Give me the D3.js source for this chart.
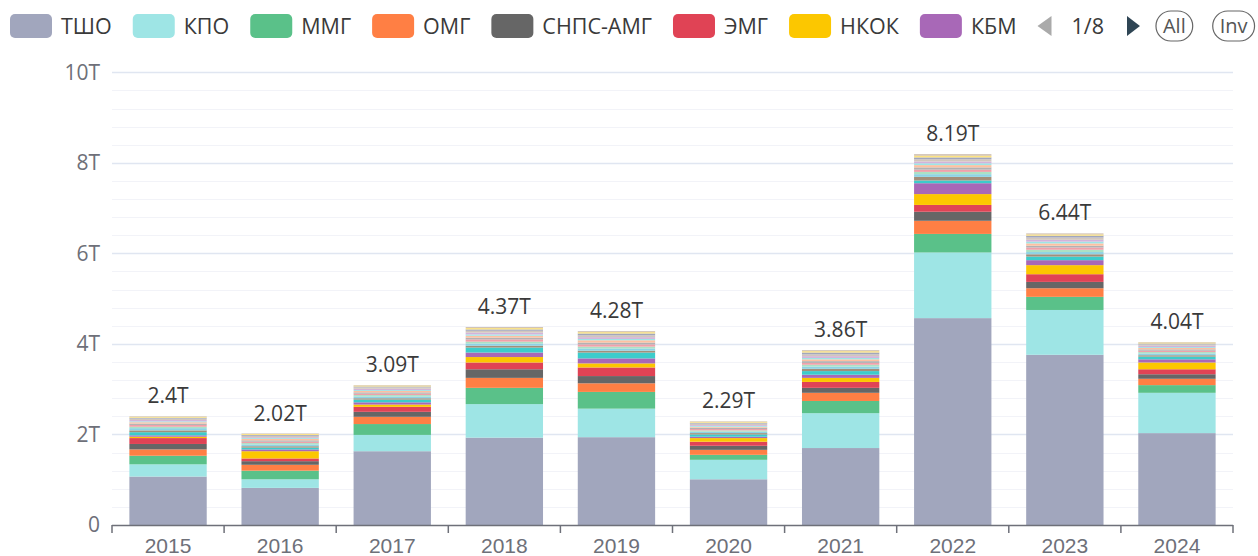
<!DOCTYPE html>
<html><head><meta charset="utf-8">
<script src="https://cdn.jsdelivr.net/npm/d3@7"></script>
<style>
body{margin:0;background:#fff;}
svg{display:block;font-family:"Open Sans","Noto Sans",sans-serif;}
</style>
</head><body>
<svg id="chart" width="1258" height="556"></svg>
<script>
// ---- data (values in trillions) ----
const years = ["2015","2016","2017","2018","2019","2020","2021","2022","2023","2024"];
const legendNames = ["ТШО","КПО","ММГ","ОМГ","СНПС-АМГ","ЭМГ","НКОК","КБМ"];
const legendPage = "1/8";
const yTickValues = [0,2,4,6,8,10];

const tsho    = [1.07,0.82,1.63,1.93,1.94,1.01,1.70,4.57,3.76,2.03];
const kpo     = [0.27,0.19,0.36,0.74,0.63,0.43,0.77,1.45,0.99,0.89];
const mmg     = [0.19,0.19,0.24,0.36,0.37,0.11,0.27,0.41,0.29,0.17];
const omg     = [0.14,0.13,0.16,0.22,0.19,0.11,0.18,0.29,0.19,0.14];
const snps    = [0.12,0.08,0.11,0.19,0.16,0.09,0.11,0.20,0.14,0.10];
const emg     = [0.13,0.06,0.11,0.15,0.19,0.09,0.13,0.15,0.17,0.11];
const nkok    = [0.03,0.16,0.05,0.12,0.09,0.08,0.09,0.24,0.20,0.15];
const kbm     = [0.03,0.04,0.05,0.10,0.11,0.03,0.07,0.24,0.11,0.07];
const other01 = [0.07,0.04,0.06,0.11,0.13,0.05,0.08,0.06,0.08,0.06];
const other02 = [0.04,0.03,0.03,0.04,0.04,0.03,0.05,0.08,0.05,0.03];
const other03 = [0.05,0.04,0.04,0.05,0.05,0.03,0.05,0.06,0.05,0.04];
const other04 = [0.03,0.03,0.03,0.04,0.04,0.03,0.04,0.05,0.05,0.03];
const other05 = [0.04,0.03,0.03,0.05,0.05,0.03,0.04,0.05,0.05,0.03];
const other06 = [0.03,0.03,0.03,0.04,0.04,0.03,0.04,0.05,0.04,0.03];
const other07 = [0.03,0.03,0.03,0.04,0.05,0.02,0.04,0.05,0.05,0.03];
const other08 = [0.02,0.02,0.02,0.03,0.03,0.02,0.03,0.04,0.04,0.02];
const other09 = [0.03,0.02,0.03,0.04,0.04,0.02,0.04,0.04,0.04,0.03];
const other10 = [0.03,0.03,0.03,0.04,0.04,0.03,0.04,0.05,0.05,0.03];
const other11 = [0.02,0.02,0.02,0.03,0.04,0.02,0.04,0.04,0.04,0.02];
const other12 = [0.02,0.02,0.02,0.03,0.03,0.02,0.03,0.04,0.03,0.02];
const other13 = [0.01,0.01,0.01,0.02,0.02,0.01,0.02,0.03,0.02,0.01];

const seriesValues = [tsho,kpo,mmg,omg,snps,emg,nkok,kbm,
  other01,other02,other03,other04,other05,other06,other07,other08,other09,other10,other11,other12,other13];
const seriesColors = ["#A1A6BD","#9EE5E5","#5AC189","#FF7F44","#666666","#E04355","#FCC700","#A868B7",
  "#3CCCCB","#A38F79","#8FD3E4","#ACE1C4","#EFA1AA","#B2B2B2","#FEC0A1","#9EE5E5","#D3B3DA","#D1C6BC","#A1A6BD","#FDE380","#C9B8A8"];

// ---- layout ----
const plot = {left:112, right:1233, top:72.3, bottom:525};
const svg = d3.select("#chart");

const x = d3.scaleBand().domain(years).range([plot.left, plot.right]);
const y = d3.scaleLinear().domain([0,10]).range([plot.bottom, plot.top]);
const barW = x.bandwidth()*0.69;

// grid: minor + major
const minor = d3.range(0, 10.0001, 0.4);
svg.append("g").selectAll("line").data(minor.filter(v => Math.abs(v/2 - Math.round(v/2))>1e-6)).join("line")
  .attr("x1",plot.left).attr("x2",plot.right)
  .attr("y1",d=>Math.round(y(d))+0.5).attr("y2",d=>Math.round(y(d))+0.5)
  .attr("stroke","#F2F3F8").attr("stroke-width",1);
svg.append("g").selectAll("line").data(yTickValues.filter(v=>v>0)).join("line")
  .attr("x1",plot.left).attr("x2",plot.right)
  .attr("y1",d=>Math.round(y(d))+0.5).attr("y2",d=>Math.round(y(d))+0.5)
  .attr("stroke","#E0E6F1").attr("stroke-width",1.5);

// stack
const table = years.map((yr,i)=>{
  const o = {year:yr};
  seriesValues.forEach((s,k)=>{o["s"+k]=s[i];});
  return o;
});
const keys = seriesValues.map((s,k)=>"s"+k);
const stacked = d3.stack().keys(keys)(table);

svg.append("g").selectAll("g").data(stacked).join("g")
  .attr("fill",(d,k)=>seriesColors[k])
  .selectAll("rect").data(d=>d).join("rect")
  .attr("x",d=>x(d.data.year)+(x.bandwidth()-barW)/2)
  .attr("width",barW)
  .attr("y",d=>y(d[1]))
  .attr("height",d=>Math.max(0,y(d[0])-y(d[1])));

// totals
const fmt = d3.format(".3~s");
svg.append("g").selectAll("text").data(table).join("text")
  .attr("x",d=>x(d.year)+x.bandwidth()/2)
  .attr("y",d=>y(d3.sum(keys,k=>d[k]))-13)
  .attr("text-anchor","middle")
  .attr("font-size",21).attr("fill","#3a3a3a")
  .text(d=>fmt(Math.round(d3.sum(keys,k=>d[k])*100)/100*1e12));

// x axis
const xAxis = d3.axisBottom(x).tickSize(0).tickPadding(13);
const gx = svg.append("g").attr("transform",`translate(0,${plot.bottom})`).call(xAxis);
gx.select(".domain").attr("stroke","#6E7079").attr("stroke-width",1.5).attr("d",`M${plot.left},0.5H${plot.right}`);
gx.selectAll("text").attr("font-size",21).attr("fill","#6E7079").attr("font-family","inherit");
const bounds = years.map(d=>x(d)).concat([plot.right]);
gx.append("g").selectAll("line").data(bounds).join("line")
  .attr("x1",d=>d).attr("x2",d=>d).attr("y1",0).attr("y2",8)
  .attr("stroke","#6E7079").attr("stroke-width",1.5);

// y axis labels
const yFmt = d3.format("~s");
svg.append("g").selectAll("text").data(yTickValues).join("text")
  .attr("x",plot.left-12).attr("y",d=>y(d)).attr("dy","0.35em")
  .attr("text-anchor","end").attr("font-size",21).attr("fill","#6E7079")
  .text(d=>yFmt(d*1e12));

// legend
const lg = svg.append("g");
let lx = 10;
const ly = 26;
legendNames.forEach((name,i)=>{
  lg.append("rect").attr("x",lx).attr("y",ly-12).attr("width",42).attr("height",24).attr("rx",5)
    .attr("fill",seriesColors[i]);
  const t = lg.append("text").attr("x",lx+51).attr("y",ly).attr("dy","0.35em")
    .attr("font-size",21.5).attr("fill","#3a3a3a").text(name);
  lx += 51 + t.node().getComputedTextLength() + 21;
});
// pager
lg.append("path").attr("d",`M${lx+14},${ly-10}L${lx},${ly}L${lx+14},${ly+10}Z`).attr("fill","#aaa");
lx += 34;
const pt = lg.append("text").attr("x",lx).attr("y",ly).attr("dy","0.35em").attr("font-size",21.5).attr("fill","#3a3a3a").text(legendPage);
lx += pt.node().getComputedTextLength() + 23;
lg.append("path").attr("d",`M${lx},${ly-10}L${lx+13},${ly}L${lx},${ly+10}Z`).attr("fill","#2F4554");
lx += 29;
["All","Inv"].forEach(lbl=>{
  const g = lg.append("g");
  const tt = g.append("text").attr("y",ly).attr("dy","0.35em").attr("font-size",20).attr("fill","#555").text(lbl);
  const w = tt.node().getComputedTextLength();
  g.insert("rect","text").attr("x",lx).attr("y",ly-15).attr("width",w+14).attr("height",30).attr("rx",15)
    .attr("fill","#fff").attr("stroke","#666").attr("stroke-width",1.2);
  tt.attr("x",lx+7);
  lx += w + 14 + 20;
});
</script>
</body></html>
